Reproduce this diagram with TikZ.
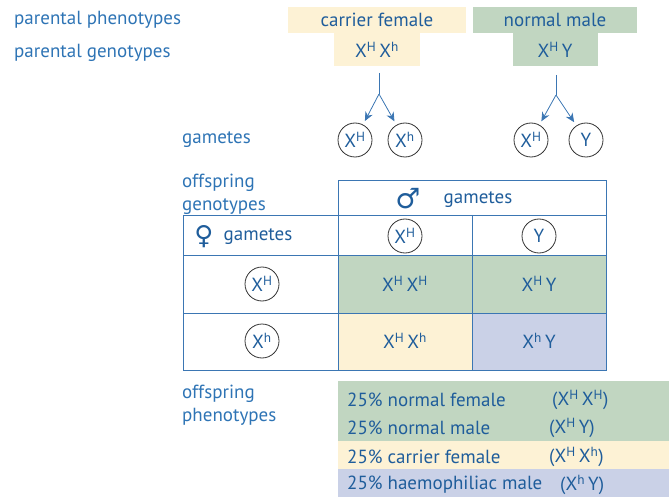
\documentclass[tikz,border=0pt]{standalone}
\usepackage{fontspec}
\setmainfont{PT Sans}
\newfontfamily\symfont{DejaVu Sans}
\usetikzlibrary{arrows.meta}
\definecolor{cream}{HTML}{FDF2D5}
\definecolor{sage}{HTML}{C1D6C1}
\definecolor{lav}{HTML}{CAD1E7}
\definecolor{labelblue}{HTML}{2E74B5}
\definecolor{textblue}{HTML}{1F5D9B}
\definecolor{tline}{HTML}{3B76B3}
\newcommand{\XH}{X\textsuperscript{H}}
\newcommand{\Xh}{X\textsuperscript{h}}
\begin{document}
\begin{tikzpicture}[x=1pt,y=-1pt,font=\fontsize{19}{23}\selectfont,
  label/.style={text=labelblue,anchor=west,align=left,inner sep=0},
  box/.style={text=textblue,inner sep=0},
  gam/.style={circle,draw=black!80,thick,text=textblue,minimum size=34,inner sep=0},
  split/.style={draw=tline,thick,-{Stealth[length=9pt,width=8pt]}}]
\useasboundingbox (0,0) rectangle (669,497);
% parents
\node[label] (lphen) at (14,20) {parental phenotypes};
\node[label] (lgen) at (14,53) {parental genotypes};
\node[box,fill=cream,minimum width=178,minimum height=26] (fphen) at (377,20) {carrier female};
\node[box,fill=cream,minimum width=86,minimum height=33,anchor=north] (fgen) at (377,33) {\XH\,\Xh};
\node[box,fill=sage,minimum width=164,minimum height=26] (mphen) at (555,20) {normal male};
\node[box,fill=sage,minimum width=85,minimum height=33,anchor=north] (mgen) at (555,33) {\XH\,Y};
% gametes
\node[label] (lgam) at (182,140) {gametes};
\node[gam] (f1) at (355,140) {\XH};
\node[gam] (f2) at (405,140) {\Xh};
\node[gam] (m1) at (531,140) {\XH};
\node[gam] (m2) at (586,140) {Y};
\coordinate (ftop) at (379,73);
\coordinate (fmid) at (379,94);
\coordinate (mtop) at (556,75);
\coordinate (mmid) at (556,95);
\draw[draw=tline,thick] (ftop) -- (fmid);
\draw[split,shorten >=4pt] (fmid) -- (f1);
\draw[split,shorten >=4pt] (fmid) -- (f2);
\draw[draw=tline,thick] (mtop) -- (mmid);
\draw[split,shorten >=4pt] (mmid) -- (m1);
\draw[split,shorten >=4pt] (mmid) -- (m2);
% punnett square
\node[label] (loff) at (182,194) {offspring\\genotypes};
\fill[sage] (338,255) rectangle (606,313);
\fill[cream] (338,313) rectangle (472,370);
\fill[lav] (472,313) rectangle (606,370);
\draw[tline,thick] (338,180) rectangle (606,215);
\draw[tline,thick] (183,215) rectangle (606,370);
\draw[tline,thick] (183,255) -- (606,255);
\draw[tline,thick] (183,313) -- (606,313);
\draw[tline,thick] (338,215) -- (338,370);
\draw[tline,thick] (472,215) -- (472,370);
\node[box,font=\symfont\fontsize{28}{28}\selectfont] (male) at (408,199) {♂};
\node[box] (mgam) at (478,200) {gametes};
\node[box,font=\symfont\fontsize{26}{26}\selectfont] (female) at (204,237) {♀};
\node[box] (fgamh) at (258,237) {gametes};
\node[gam] (c1) at (405,236) {\XH};
\node[gam] (c2) at (539,236) {Y};
\node[gam] (r1) at (262,284) {\XH};
\node[gam] (r2) at (262,341) {\Xh};
\node[box] (g11) at (405,284) {\XH\,\XH};
\node[box] (g12) at (539,284) {\XH\,Y};
\node[box] (g21) at (405,341) {\XH\,\Xh};
\node[box] (g22) at (539,341) {\Xh\,Y};
% phenotype ratio
\node[label] (lpheno) at (182,405) {offspring\\phenotypes};
\fill[sage] (338,381) rectangle (669,441);
\fill[cream] (338,441) rectangle (669,469);
\fill[lav] (338,469) rectangle (669,497);
\node[box,anchor=west] (p1) at (347,400) {25\% normal female};
\node[box,anchor=west] (p2) at (347,428) {25\% normal male};
\node[box,anchor=west] (p3) at (347,457) {25\% carrier female};
\node[box,anchor=west] (p4) at (347,485) {25\% haemophiliac male};
\node[box,anchor=west] (q1) at (552,400) {(\XH\,\XH)};
\node[box,anchor=west] (q2) at (549,428) {(\XH\,Y)};
\node[box,anchor=west] (q3) at (549,457) {(\XH\,\Xh)};
\node[box,anchor=west] (q4) at (560,485) {(\Xh\,Y)};
\end{tikzpicture}
\end{document}
